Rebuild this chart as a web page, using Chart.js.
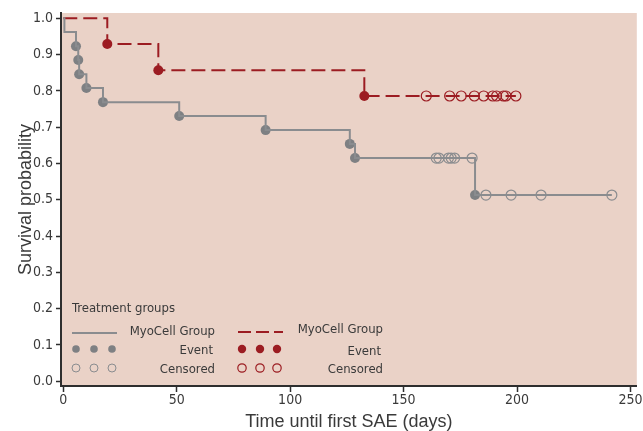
<!DOCTYPE html>
<html>
<head>
<meta charset="utf-8">
<title>Time until first SAE</title>
<script src="https://cdn.jsdelivr.net/npm/chart.js@4.4.1/dist/chart.umd.min.js"></script>
<style>
  html, body { margin: 0; padding: 0; background: #fff; }
  canvas { display: block; }
</style>
</head>
<body>
<canvas id="km-chart" width="643" height="431"></canvas>
<script>
(function() {
    'use strict';

    // Axis ticks
    var xTickValues = [0, 50, 100, 150, 200, 250];
    var yTickValues = [0, 0.1, 0.2, 0.3, 0.4, 0.5, 0.6, 0.7, 0.8, 0.9, 1.0];

    // Grey group - Kaplan-Meier steps (day, survival)
    var grayStepDays = [0, 0.5, 5.6, 6.6, 7.0, 10.2, 17.5, 51.1, 89.2, 126.3, 128.6, 181.5, 241.8];
    var grayStepSurv = [1.0, 0.962, 0.923, 0.885, 0.846, 0.808, 0.769, 0.731, 0.692, 0.654, 0.615, 0.513, 0.513];
    var grayEventDays = [5.6, 6.6, 7.0, 10.2, 17.5, 51.1, 89.2, 126.3, 128.6, 181.5];
    var grayEventSurv = [0.923, 0.885, 0.846, 0.808, 0.769, 0.731, 0.692, 0.654, 0.615, 0.513];
    var grayCensorDays = [164.4, 165.6, 169.8, 171.0, 172.5, 180.2, 186.3, 197.4, 210.6, 241.8];
    var grayCensorSurv = [0.615, 0.615, 0.615, 0.615, 0.615, 0.615, 0.513, 0.513, 0.513, 0.513];

    // Red group
    var redStepDays = [0, 19.4, 41.9, 132.7, 199.5];
    var redStepSurv = [1.0, 0.929, 0.857, 0.786, 0.786];
    var redEventDays = [19.4, 41.9, 132.7];
    var redEventSurv = [0.929, 0.857, 0.786];
    var redCensorDays = [160.0, 170.3, 175.4, 181.2, 185.3, 189.3, 191.0, 194.0, 195.1, 199.5];
    var redCensorSurv = [0.786, 0.786, 0.786, 0.786, 0.786, 0.786, 0.786, 0.786, 0.786, 0.786];

    var GRAY_LINE = '#8a8c8f';
    var GRAY_DOT = '#7e8083';
    var RED = '#9c1c22';
    var TEXT = '#3a3a3a';
    var AXIS = '#2e2e2e';
    var PANEL = '#ead2c7';
    var NARROW = '"DejaVu Sans Condensed", "Liberation Sans Narrow", sans-serif';
    var REGULAR = '"Liberation Sans", Arial, sans-serif';

    function pairs(xs, ys) {
        return xs.map(function(x, i) { return { x: x, y: ys[i] }; });
    }

    // Fill the plotting panel
    var panelBackground = {
        id: 'panelBackground',
        beforeDraw: function(chart) {
            var a = chart.chartArea;
            var ctx = chart.ctx;
            ctx.save();
            ctx.fillStyle = PANEL;
            ctx.fillRect(a.left, a.top, a.right - a.left, a.bottom - a.top);
            ctx.restore();
        }
    };

    // Legend box in the lower left of the panel
    var kmLegend = {
        id: 'kmLegend',
        afterDatasetsDraw: function(chart) {
            var ctx = chart.ctx;
            var a = chart.chartArea;
            var x0 = a.left, yb = a.bottom;
            ctx.save();
            ctx.font = '13px ' + NARROW;
            ctx.fillStyle = TEXT;
            ctx.textBaseline = 'middle';

            ctx.textAlign = 'left';
            ctx.fillText('Treatment groups', x0 + 11, yb - 77);

            // grey column
            ctx.strokeStyle = GRAY_LINE;
            ctx.lineWidth = 2;
            ctx.beginPath();
            ctx.moveTo(x0 + 11, yb - 53);
            ctx.lineTo(x0 + 56, yb - 53);
            ctx.stroke();
            [15, 33, 51].forEach(function(dx) {
                ctx.fillStyle = GRAY_DOT;
                ctx.beginPath();
                ctx.arc(x0 + dx, yb - 37, 3.8, 0, Math.PI * 2);
                ctx.fill();
                ctx.strokeStyle = GRAY_LINE;
                ctx.lineWidth = 1;
                ctx.beginPath();
                ctx.arc(x0 + dx, yb - 18, 4, 0, Math.PI * 2);
                ctx.stroke();
            });
            ctx.fillStyle = TEXT;
            ctx.textAlign = 'right';
            ctx.fillText('MyoCell Group', x0 + 154, yb - 54);
            ctx.fillText('Event', x0 + 152, yb - 35);
            ctx.fillText('Censored', x0 + 154, yb - 16);

            // red column
            ctx.strokeStyle = RED;
            ctx.lineWidth = 2;
            ctx.setLineDash([13, 5]);
            ctx.beginPath();
            ctx.moveTo(x0 + 177, yb - 54);
            ctx.lineTo(x0 + 222, yb - 54);
            ctx.stroke();
            ctx.setLineDash([]);
            [181, 199, 216].forEach(function(dx) {
                ctx.fillStyle = RED;
                ctx.beginPath();
                ctx.arc(x0 + dx, yb - 37, 4.2, 0, Math.PI * 2);
                ctx.fill();
                ctx.strokeStyle = RED;
                ctx.lineWidth = 1.2;
                ctx.beginPath();
                ctx.arc(x0 + dx, yb - 18, 4.2, 0, Math.PI * 2);
                ctx.stroke();
            });
            ctx.fillStyle = TEXT;
            ctx.fillText('MyoCell Group', x0 + 322, yb - 56);
            ctx.fillText('Event', x0 + 320, yb - 34);
            ctx.fillText('Censored', x0 + 322, yb - 16);
            ctx.restore();
        }
    };

    function fixBox(size, isX) {
        return function(scale) {
            if (isX) { scale.height = size; } else { scale.width = size; }
            scale.paddingLeft = 0;
            scale.paddingRight = 0;
            scale.paddingTop = 0;
            scale.paddingBottom = 0;
        };
    }

    var ctx = document.getElementById('km-chart').getContext('2d');
    var kmChart = new Chart(ctx, {
        type: 'scatter',
        data: {
            datasets: [
                {
                    label: 'MyoCell Group',
                    data: pairs(grayStepDays, grayStepSurv),
                    showLine: true,
                    stepped: 'before',
                    borderColor: GRAY_LINE,
                    borderWidth: 2,
                    pointRadius: 0
                },
                {
                    label: 'Event',
                    data: pairs(grayEventDays, grayEventSurv),
                    pointRadius: 5,
                    backgroundColor: GRAY_DOT,
                    borderWidth: 0
                },
                {
                    label: 'Censored',
                    data: pairs(grayCensorDays, grayCensorSurv),
                    pointRadius: 5,
                    backgroundColor: 'rgba(0,0,0,0)',
                    borderColor: GRAY_LINE,
                    borderWidth: 1.2
                },
                {
                    label: 'MyoCell Group',
                    data: pairs(redStepDays, redStepSurv),
                    showLine: true,
                    stepped: 'before',
                    borderColor: RED,
                    borderWidth: 2,
                    borderDash: [14, 6],
                    pointRadius: 0
                },
                {
                    label: 'Event',
                    data: pairs(redEventDays, redEventSurv),
                    pointRadius: 5,
                    backgroundColor: RED,
                    borderWidth: 0
                },
                {
                    label: 'Censored',
                    data: pairs(redCensorDays, redCensorSurv),
                    pointRadius: 5,
                    backgroundColor: 'rgba(0,0,0,0)',
                    borderColor: RED,
                    borderWidth: 1.2
                }
            ]
        },
        options: {
            responsive: false,
            animation: false,
            layout: { padding: { top: 13, right: 3, left: 0, bottom: 0 } },
            plugins: {
                legend: { display: false },
                tooltip: { enabled: false }
            },
            scales: {
                x: {
                    type: 'linear',
                    min: -1.0,
                    max: 252.8,
                    afterBuildTicks: function(scale) {
                        scale.ticks = xTickValues.map(function(v) { return { value: v }; });
                    },
                    afterFit: fixBox(45, true),
                    grid: { drawOnChartArea: false, drawTicks: true, tickLength: 6, tickColor: AXIS, tickWidth: 1.5 },
                    border: { display: true, color: AXIS, width: 2 },
                    ticks: {
                        autoSkip: false,
                        maxRotation: 0,
                        padding: 0,
                        color: TEXT,
                        font: { family: NARROW, size: 14 }
                    },
                    title: {
                        display: true,
                        text: 'Time until first SAE (days)',
                        color: TEXT,
                        font: { family: REGULAR, size: 18, lineHeight: 1 },
                        padding: { top: 0, bottom: 0 }
                    }
                },
                y: {
                    type: 'linear',
                    min: -0.013,
                    max: 1.0146,
                    afterBuildTicks: function(scale) {
                        scale.ticks = yTickValues.map(function(v) { return { value: v }; });
                    },
                    afterFit: fixBox(61, false),
                    grid: { drawOnChartArea: false, drawTicks: true, tickLength: 5, tickColor: AXIS, tickWidth: 1.5 },
                    border: { display: true, color: AXIS, width: 2 },
                    ticks: {
                        autoSkip: false,
                        padding: 3,
                        color: TEXT,
                        font: { family: NARROW, size: 14 },
                        callback: function(v) { return Number(v).toFixed(1); }
                    },
                    title: {
                        display: true,
                        text: 'Survival probability',
                        color: TEXT,
                        font: { family: REGULAR, size: 18, lineHeight: 1 },
                        padding: { top: 17, bottom: 0 }
                    }
                }
            }
        },
        plugins: [panelBackground, kmLegend]
    });
})();
</script>
</body>
</html>
